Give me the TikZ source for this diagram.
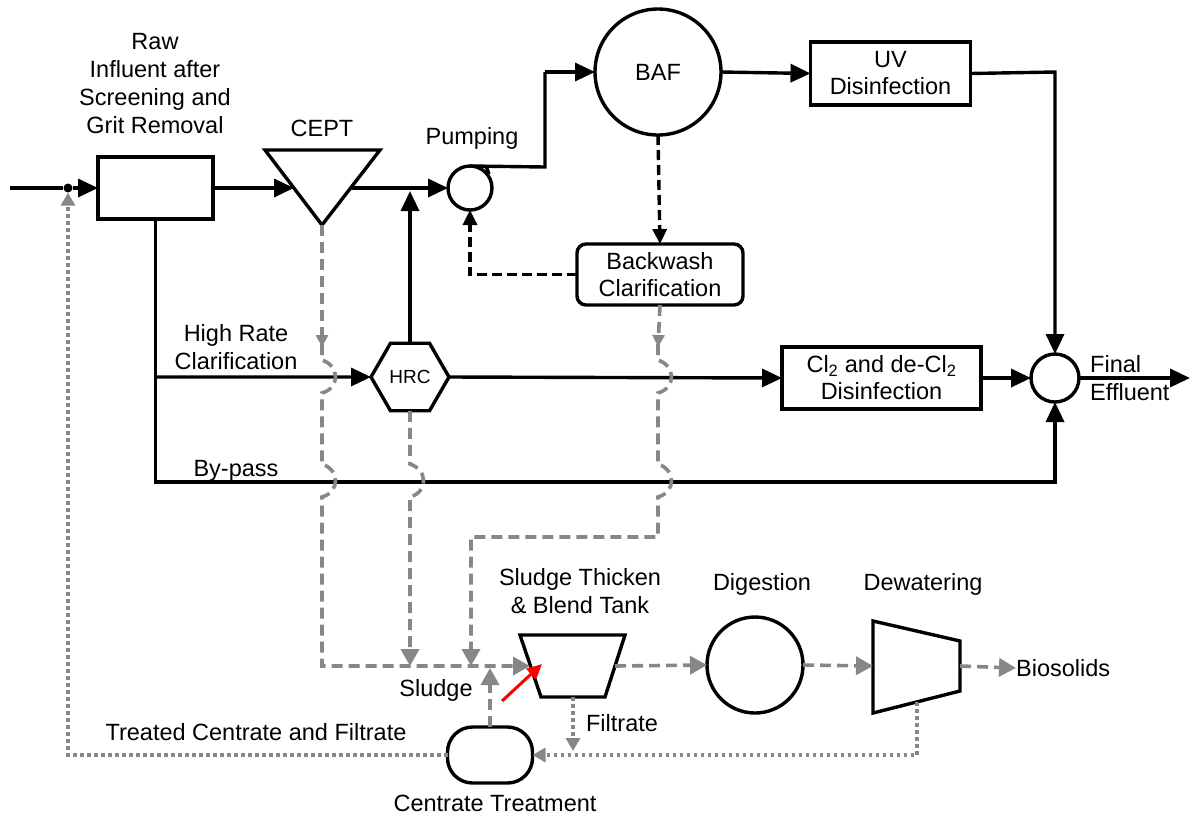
\documentclass[tikz,border=0pt]{standalone}
\usepackage{fontspec}
\setmainfont{Liberation Sans}
\usetikzlibrary{arrows.meta,shapes.geometric}
\definecolor{gcol}{RGB}{135,135,135}
\begin{document}
\begin{tikzpicture}[x=1pt,y=-1pt,
  blk/.style={line width=3.4pt,black},
  arr/.style={-{Triangle[length=20pt,width=18pt]}},
  shp/.style={draw,line width=3.4pt,inner sep=0pt,outer sep=0pt,font=\fontsize{23.5}{27}\selectfont,align=center},
  txt/.style={font=\fontsize{23.5}{28}\selectfont,align=center,inner sep=0pt},
  bdash/.style={line width=3.4pt,black,dash pattern=on 10pt off 5pt},
  gdash/.style={line width=3.6pt,gcol,dash pattern=on 11pt off 6pt},
  gdot/.style={line width=3.8pt,gcol,dash pattern=on 3.5pt off 3.5pt},
  garr/.style={-{Triangle[length=17pt,width=18pt]}},
  gsm/.style={-{Triangle[length=12pt,width=12pt]}},
]
\useasboundingbox (0,0) rectangle (1190,815);

% ---------- shapes ----------
\node[shp,minimum width=115pt,minimum height=62pt] (raw) at (155.5,188) {};
\node[txt] (lraw) at (155,84) {Raw\\Influent after\\Screening and\\Grit Removal};

\draw[line width=3.4pt,line join=miter] (265,150) -- (380,150) -- (322,225) -- cycle;
\coordinate (ceptL) at (294,188);
\coordinate (ceptR) at (351,188);
\coordinate (ceptB) at (322,225);
\node[txt] (lcept) at (322,128) {CEPT};

\node[shp,circle,minimum size=44pt] (pump) at (470,188) {};
\node[txt] (lpump) at (472,138) {Pumping};

\node[shp,circle,minimum size=126pt] (baf) at (658,72) {BAF};
\node[shp,minimum width=160pt,minimum height=63pt] (uv) at (890.5,73.5) {UV\\Disinfection};
\node[shp,rounded corners=9pt,minimum width=166pt,minimum height=61pt] (bw) at (660,274.5) {Backwash\\Clarification};

\node[shp,regular polygon,regular polygon sides=6,minimum size=78pt,font=\fontsize{19}{22}\selectfont] (hrc) at (410,377) {HRC};
\node[shp,minimum width=199pt,minimum height=62pt] (cl) at (881.5,378) {Cl\textsubscript{2} and de-Cl\textsubscript{2}\\Disinfection};
\node[shp,circle,minimum size=48pt] (fin) at (1055,378) {};
\node[txt,anchor=west,align=left] (lfin) at (1090,378) {Final\\Effluent};

\node[txt] (lhrc) at (236,347) {High Rate\\Clarification};
\node[txt] (lbyp) at (236,471) {By-pass};

% sludge thickener
\draw[line width=3.4pt,line join=miter] (520,635) -- (625,635) -- (605,697) -- (541,697) -- cycle;
\coordinate (thL) at (530,666);
\coordinate (thR) at (615,666);
\coordinate (thB) at (573,697);
\node[txt] (lth) at (580,591) {Sludge Thicken\\\& Blend Tank};

\node[shp,circle,minimum size=96pt] (dig) at (755,665) {};
\node[txt] (ldig) at (762,584) {Digestion};

\draw[line width=3.4pt,line join=miter] (873,621) -- (960,641) -- (960,691) -- (873,713) -- cycle;
\coordinate (dwL) at (873,666);
\coordinate (dwR) at (960,666);
\coordinate (dwB) at (917,702);
\node[txt] (ldw) at (923,584) {Dewatering};
\node[txt,anchor=west] (bio) at (1016,668) {Biosolids};

\node[shp,rounded corners=25pt,minimum width=85pt,minimum height=56pt] (cent) at (490,755) {};
\node[txt] (lcent) at (495,803) {Centrate Treatment};
\node[txt] (lslu) at (436,690) {Sludge};
\node[txt] (lfil) at (622,723) {Filtrate};
\node[txt] (ltcf) at (256,732) {Treated Centrate and Filtrate};

% ---------- black flow ----------
\coordinate (in) at (10,188);
\node[circle,fill=black,inner sep=0pt,minimum size=9pt] (dot) at (68,188) {};
\draw[blk] (in) -- (dot);
\draw[blk,arr] (dot) -- (raw.west);
\draw[blk,arr] (raw.east) -- (ceptL);
\draw[blk,arr] (ceptR) -- (pump.west);
\coordinate (pk1) at (545,167);
\coordinate (pk2) at (545,72);
\draw[blk,line join=miter] (pump.north) -- (pk1) -- (pk2);
\draw[blk,arr] (pk2) -- (baf.west);
\draw[blk] (486,166) -- (489,174);
\draw[blk,arr] (baf.east) -- (uv.west);
\coordinate (uvc) at (1055,72);
\draw[blk,arr] (uv.east) -- (uvc) -- (fin.north);
\coordinate (hrcup) at (410,191);
\draw[blk,arr] (hrc.north) -- (hrcup);
\coordinate (bpc) at (1055,482);
\draw[blk,arr] (raw.south) |- (bpc) -- (fin.south);
\coordinate (hrcbr) at (155,377);
\draw[blk,arr] (hrcbr) -- (hrc.west);
\draw[blk,arr] (hrc.east) -- (cl.west);
\draw[blk,arr] (cl.east) -- (fin.west);
\coordinate (out) at (1190,378);
\draw[blk,arr] (fin.east) -- (out);

% ---------- black dashed ----------
\draw[bdash,-{Triangle[length=15pt,width=14pt]}] (baf.south) -- (bw.north);
\draw[bdash,-{Triangle[length=15pt,width=14pt]}] (bw.west) -| (pump.south);

% ---------- gray dashed ----------
\coordinate (m1) at (322,347);
\draw[gdash,gsm] (ceptB) -- (m1);
\draw[gdash,garr] (322,344) -- (322,360) .. controls (340,366) and (340,388) .. (322,393)
   -- (322,464) .. controls (340,470) and (340,492) .. (322,497) -- (322,666) -- (thL);
\draw[gdash,garr] (hrc.south) -- (410,464) .. controls (428,470) and (428,492) .. (410,497) -- (410,666);
\coordinate (m3) at (658,347);
\draw[gdash,gsm] (bw.south) -- (m3);
\draw[gdash,garr] (658,344) -- (658,360) .. controls (676,366) and (676,388) .. (658,393)
   -- (658,464) .. controls (676,470) and (676,492) .. (658,497) -- (658,537) -- (471,537) -- (471,666);
\coordinate (cu) at (490,668);
\draw[gdash,garr] (cent.north) -- (cu);
\draw[gdash,garr] (thR) -- (dig.west);
\draw[gdash,garr] (dig.east) -- (dwL);
\draw[gdash,garr] (dwR) -- (bio.west);

% ---------- gray dotted ----------
\coordinate (fd) at (573,751);
\draw[gdot,-{Triangle[length=13pt,width=14pt]}] (thB) -- (fd);
\coordinate (dwc) at (917,755);
\draw[gdot,-{Triangle[length=13pt,width=14pt]}] (dwB) -- (dwc) -- (cent.east);
\coordinate (rc) at (68,755);
\draw[gdot,-{Triangle[length=13pt,width=14pt]}] (cent.west) -- (rc) -- (dot.south);

% ---------- red pointer ----------
\coordinate (r1) at (502,701);
\coordinate (r2) at (542,664);
\draw[red,line width=3pt,-{Triangle[length=15pt,width=14pt]}] (r1) -- (r2);
\end{tikzpicture}
\end{document}
